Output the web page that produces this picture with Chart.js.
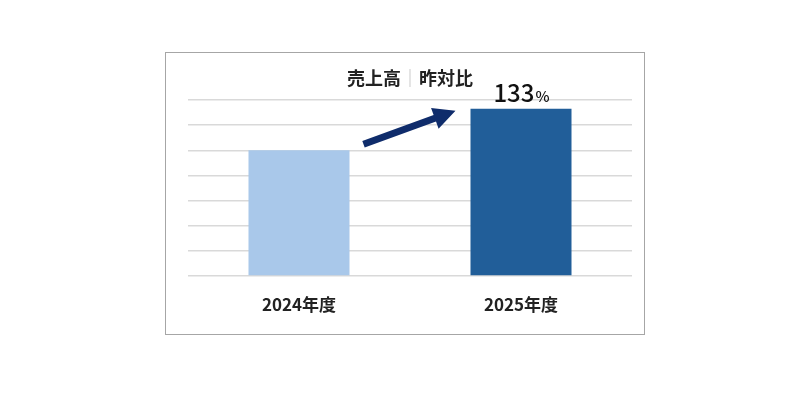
<!DOCTYPE html>
<html lang="ja">
<head>
    <meta charset="UTF-8">
    <title>売上高｜昨対比</title>
    <script src="https://cdn.jsdelivr.net/npm/chart.js"></script>
    <style>
        body { margin: 0; background: #ffffff; width: 800px; height: 420px; position: relative; }
        .box { position: absolute; left: 165px; top: 52px; width: 478px; height: 281px; border: 1px solid #a6a6a6; }
        canvas { display: block; }
    </style>
</head>
<body>
<div class="box">
    <canvas id="salesChart" width="478" height="281"></canvas>
</div>

<script>
    const years = ['2024年度', '2025年度'];
    const sales = [100, 133];
    const barColors = ['#a9c8ea', '#215e99'];
    const ratioLabel = '133';
    const fontFamily = '"Noto Sans CJK JP", "Noto Sans", sans-serif';

    // title with a light grey divider
    const titlePlugin = {
        id: 'titlePlugin',
        afterDraw(chart) {
            const ctx = chart.ctx;
            const parts = [['売上高', '#222222'], ['｜', '#bfbfbf'], ['昨対比', '#222222']];
            ctx.save();
            ctx.textBaseline = 'middle';
            let total = 0;
            parts.forEach(p => {
                ctx.font = (p[0] === '｜' ? '' : 'bold ') + '18px ' + fontFamily;
                total += ctx.measureText(p[0]).width;
            });
            let x = (chart.chartArea.left + chart.chartArea.right) / 2 - total / 2;
            parts.forEach(p => {
                ctx.fillStyle = p[1];
                ctx.font = (p[0] === '｜' ? '' : 'bold ') + '18px ' + fontFamily;
                ctx.fillText(p[0], x, 25);
                x += ctx.measureText(p[0]).width;
            });
            ctx.restore();
        }
    };

    // growth arrow + ratio label
    const arrowPlugin = {
        id: 'arrowPlugin',
        afterDatasetsDraw(chart) {
            const bars = chart.getDatasetMeta(0).data;
            const b1 = bars[0], b2 = bars[1];
            const ctx = chart.ctx;
            const x1 = b1.x + b1.width / 2 + 14, y1 = b1.y - 6;
            const x2 = b2.x - b2.width / 2 - 15, y2 = b2.y + 2;
            const ang = Math.atan2(y2 - y1, x2 - x1);
            const head = 22, half = 11, shaft = 3.5;
            const bx = x2 - head * Math.cos(ang), by = y2 - head * Math.sin(ang);
            const nx = -Math.sin(ang), ny = Math.cos(ang);
            ctx.save();
            ctx.fillStyle = '#0f2c6b';
            ctx.beginPath();
            ctx.moveTo(x1 + nx * shaft, y1 + ny * shaft);
            ctx.lineTo(bx + nx * shaft, by + ny * shaft);
            ctx.lineTo(bx + nx * half, by + ny * half);
            ctx.lineTo(x2, y2);
            ctx.lineTo(bx - nx * half, by - ny * half);
            ctx.lineTo(bx - nx * shaft, by - ny * shaft);
            ctx.lineTo(x1 - nx * shaft, y1 - ny * shaft);
            ctx.closePath();
            ctx.fill();

            ctx.fillStyle = '#111111';
            ctx.textBaseline = 'alphabetic';
            const big = '500 24px ' + fontFamily, small = '500 15px ' + fontFamily;
            ctx.font = big;
            const w1 = ctx.measureText(ratioLabel).width;
            ctx.font = small;
            const w2 = ctx.measureText('%').width;
            const sx = b2.x - (w1 + w2) / 2;
            ctx.font = big;
            ctx.fillText(ratioLabel, sx, b2.y - 7);
            ctx.font = small;
            ctx.fillText('%', sx + w1 + 1, b2.y - 7);
            ctx.restore();
        }
    };

    new Chart(document.getElementById('salesChart'), {
        type: 'bar',
        data: {
            labels: years,
            datasets: [{
                data: sales,
                backgroundColor: barColors,
                barPercentage: 0.455,
                categoryPercentage: 1.0
            }]
        },
        options: {
            responsive: false,
            animation: false,
            layout: { padding: { left: 22, right: 12, top: 47, bottom: 0 } },
            plugins: {
                legend: { display: false },
                tooltip: { enabled: false }
            },
            scales: {
                x: {
                    grid: { display: false, drawTicks: false },
                    border: { display: false },
                    afterFit(scale) { scale.height = 58; },
                    ticks: {
                        padding: 18,
                        color: '#222222',
                        font: { family: fontFamily, size: 17, weight: 'bold' }
                    }
                },
                y: {
                    min: 0,
                    max: 140,
                    ticks: { stepSize: 20, display: false },
                    grid: { color: '#d9d9d9', lineWidth: 1.5, drawTicks: false },
                    border: { display: false }
                }
            }
        },
        plugins: [titlePlugin, arrowPlugin]
    });
</script>
</body>
</html>
